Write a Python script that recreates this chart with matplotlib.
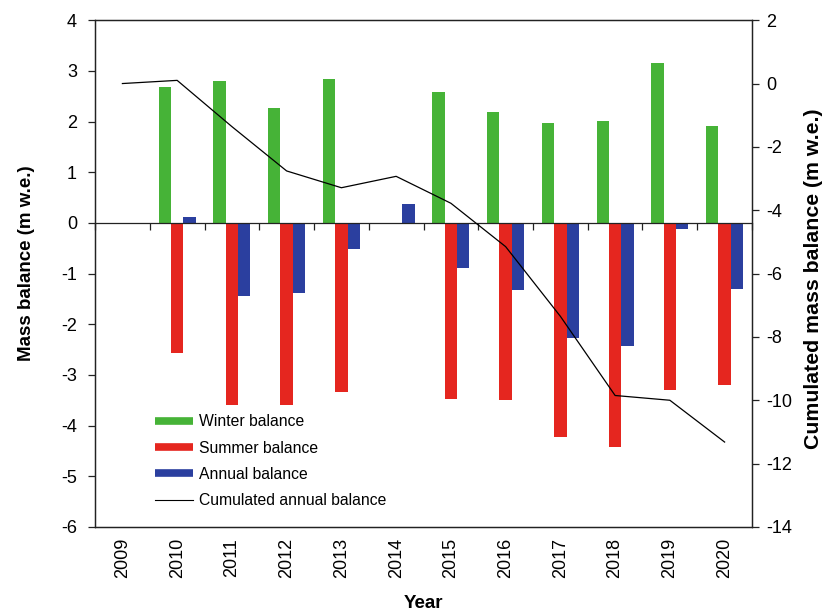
import matplotlib.pyplot as plt
import numpy as np
from matplotlib.lines import Line2D

plt.rcParams['font.family'] = ['Liberation Sans', 'DejaVu Sans']
plt.rcParams['axes.unicode_minus'] = False

# data
years = ['2009', '2010', '2011', '2012', '2013', '2014',
         '2015', '2016', '2017', '2018', '2019', '2020']
winter = [np.nan, 2.68, 2.80, 2.26, 2.83, np.nan, 2.58, 2.18, 1.98, 2.02, 3.16, 1.92]
summer = [np.nan, -2.57, -3.59, -3.59, -3.34, np.nan, -3.47, -3.50, -4.23, -4.43, -3.29, -3.20]
annual = [np.nan, 0.11, -1.45, -1.38, -0.52, 0.38, -0.89, -1.32, -2.27, -2.43, -0.13, -1.31]
cumulated = [0.0, 0.10, -1.36, -2.76, -3.29, -2.93, -3.78, -5.15, -7.35, -9.85, -10.0, -11.32]

green = '#46b337'
red = '#e5261f'
blue = '#2b3f9f'
axcol = '#222222'

fig, ax = plt.subplots(figsize=(8.3, 6.12), dpi=100)
fig.subplots_adjust(left=0.1145, right=0.906, top=0.967, bottom=0.139)

x = np.arange(len(years))
bw = 0.225
ax.bar(x - bw, winter, bw, color=green)
ax.bar(x, summer, bw, color=red)
ax.bar(x + bw, annual, bw, color=blue)

ax.set_xlim(-0.5, len(years) - 0.5)
ax.set_ylim(-6, 4)
ax.set_yticks(range(-6, 5))
ax.tick_params(axis='y', labelsize=13, length=5, width=0.9, color=axcol, pad=8)

# category axis crosses at zero, labels stay at the bottom
ax.spines['bottom'].set_position(('data', 0))
ax.set_xticks(np.arange(len(years) + 1) - 0.5)
ax.tick_params(axis='x', labelbottom=False, length=5, width=0.9, color=axcol)
for s in ax.spines.values():
    s.set_color(axcol)
    s.set_linewidth(0.9)

sec = ax.secondary_xaxis('bottom')
sec.set_xticks(x, years, rotation=90)
sec.tick_params(length=0, pad=8, labelsize=13)
sec.spines['bottom'].set_color(axcol)
sec.spines['bottom'].set_linewidth(0.9)
sec.set_xlabel('Year', fontweight='bold', fontsize=13.5, labelpad=12)

ax.set_ylabel('Mass balance (m w.e.)', fontweight='bold', fontsize=13.5, labelpad=19)
ax.yaxis.label.set_y(0.52)

ax2 = ax.twinx()
ax2.plot(x, cumulated, color='black', lw=0.9)
ax2.set_ylim(-14, 2)
ax2.set_yticks(range(-14, 3, 2))
ax2.tick_params(axis='y', labelsize=13, length=5, width=0.9, color=axcol, pad=5)
for s in ax2.spines.values():
    s.set_color(axcol)
    s.set_linewidth(0.9)
ax2.set_ylabel('Cumulated mass balance (m w.e.)', fontweight='bold', fontsize=15.3, labelpad=9)
ax2.yaxis.label.set_y(0.49)

handles = [
    Line2D([], [], color=green, lw=5.5, solid_capstyle='butt'),
    Line2D([], [], color=red, lw=5.5, solid_capstyle='butt'),
    Line2D([], [], color=blue, lw=5.5, solid_capstyle='butt'),
    Line2D([], [], color='black', lw=0.8),
]
labels = ['Winter balance', 'Summer balance', 'Annual balance', 'Cumulated annual balance']
ax2.legend(handles, labels, loc='lower left', bbox_to_anchor=(0.091, 0.037),
           frameon=False, fontsize=11.3, handlelength=2.45, handletextpad=0.35,
           labelspacing=0.72, borderpad=0, borderaxespad=0)

fig.savefig('out.png', dpi=100)
